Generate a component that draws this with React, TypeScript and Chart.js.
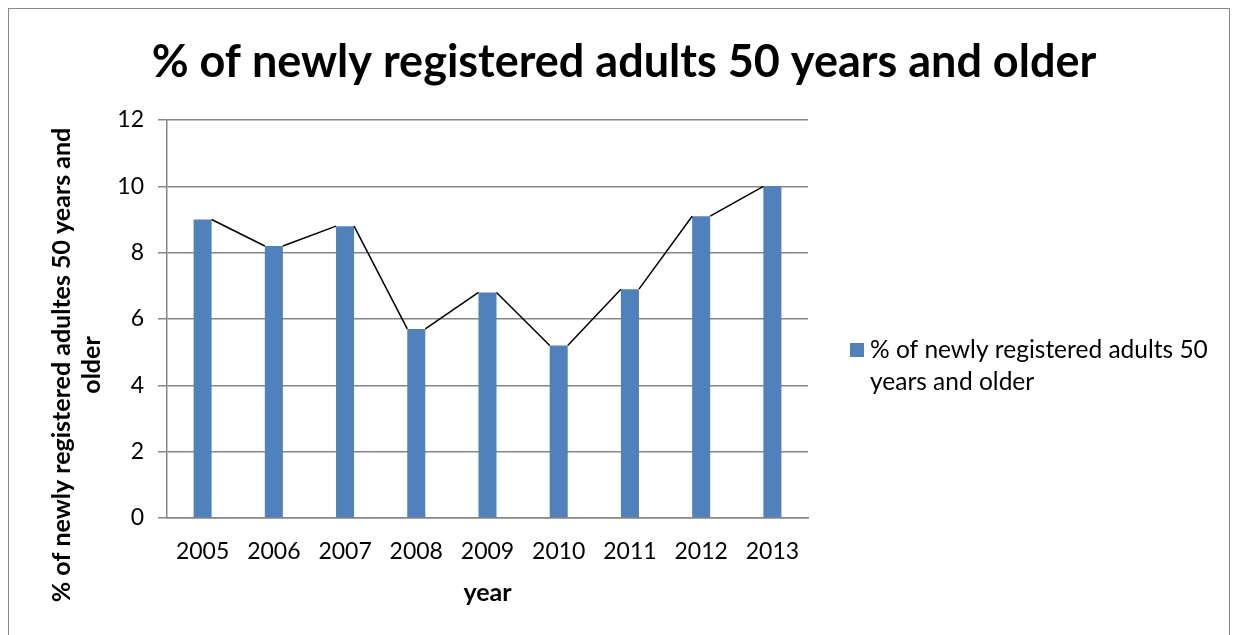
import React, { useEffect, useRef } from "react";
import { Chart, registerables } from "chart.js";

Chart.register(...registerables);

const years = ["2005", "2006", "2007", "2008", "2009", "2010", "2011", "2012", "2013"];
const percentValues = [9.0, 8.2, 8.8, 5.7, 6.8, 5.2, 6.9, 9.1, 10.0];
const yTicks = [0, 2, 4, 6, 8, 10, 12];
const chartTitle = "% of newly registered adults 50 years and older";
const yTitleLines = ["% of newly registered adultes 50 years and", "older"];
const xTitle = "year";
const legendLines = ["% of newly registered adults 50", "years and older"];

const FONT = "Lato, 'Open Sans', sans-serif";
const BAR_COLOR = "#4F81BD";
const GRID_COLOR = "#868686";

const W = 1220;
const H = 626;

const decorPlugin = {
  id: "decor",
  afterDatasetsDraw(chart: any) {
    const ctx = chart.ctx;
    const meta = chart.getDatasetMeta(0);
    ctx.save();
    ctx.strokeStyle = "#000";
    ctx.lineWidth = 1.5;
    ctx.beginPath();
    for (let i = 0; i < meta.data.length - 1; i++) {
      const a = meta.data[i];
      const b = meta.data[i + 1];
      ctx.moveTo(a.x + a.width / 2, a.y);
      ctx.lineTo(b.x - b.width / 2, b.y);
    }
    ctx.stroke();
    ctx.restore();
  },
  afterDraw(chart: any) {
    const ctx = chart.ctx;
    const area = chart.chartArea;
    ctx.save();
    ctx.fillStyle = "#000";
    ctx.textAlign = "center";
    ctx.textBaseline = "middle";
    // Title
    ctx.font = `bold 45px ${FONT}`;
    ctx.fillText(chartTitle, 615, 53);
    // X title
    ctx.font = `bold 25px ${FONT}`;
    ctx.fillText(xTitle, (area.left + area.right) / 2, 584);
    // Y title
    ctx.save();
    ctx.translate(53, 356);
    ctx.rotate(-Math.PI / 2);
    ctx.fillText(yTitleLines[0], 0, 0);
    ctx.fillText(yTitleLines[1], 0, 30);
    ctx.restore();
    // Legend
    ctx.fillStyle = BAR_COLOR;
    ctx.fillRect(841, 334, 14, 14);
    ctx.fillStyle = "#000";
    ctx.textAlign = "left";
    ctx.font = `24.5px ${FONT}`;
    ctx.fillText(legendLines[0], 861, 341);
    ctx.fillText(legendLines[1], 861, 373);
    ctx.restore();
  },
};

export default function App() {
  const ref = useRef<HTMLCanvasElement>(null);
  useEffect(() => {
    if (!ref.current) return;
    const chart = new Chart(ref.current, {
      type: "bar",
      data: {
        labels: years,
        datasets: [
          {
            label: chartTitle,
            data: percentValues,
            backgroundColor: BAR_COLOR,
            categoryPercentage: 1,
            barPercentage: 0.253,
          },
        ],
      },
      options: {
        animation: false,
        responsive: false,
        devicePixelRatio: 1,
        layout: { padding: { top: 111, right: 421, left: 0, bottom: 0 } },
        plugins: {
          legend: { display: false },
          title: { display: false },
          tooltip: { enabled: false },
        },
        scales: {
          x: {
            grid: { display: false, drawTicks: false },
            border: { display: true, color: GRID_COLOR, width: 1.5 },
            ticks: { color: "#000", font: { family: FONT, size: 23 }, padding: 20 },
            afterFit: (s: any) => {
              s.height = 117;
            },
          },
          y: {
            min: 0,
            max: 12,
            afterBuildTicks: (s: any) => {
              s.ticks = yTicks.map((v) => ({ value: v }));
            },
            grid: { color: GRID_COLOR, lineWidth: 1.5, tickLength: 9 },
            border: { display: true, color: GRID_COLOR, width: 1.5 },
            ticks: { color: "#000", font: { family: FONT, size: 23 }, padding: 14 },
            afterFit: (s: any) => {
              s.width = 158;
            },
          },
        },
      },
      plugins: [decorPlugin],
    });
    return () => chart.destroy();
  }, []);
  return (
    <div
      style={{
        width: W,
        height: H,
        borderTop: "1px solid #888",
        borderLeft: "1px solid #888",
        borderRight: "1px solid #888",
        background: "#fff",
      }}
    >
      <canvas ref={ref} width={W} height={H} style={{ display: "block", width: W, height: H }} />
    </div>
  );
}
